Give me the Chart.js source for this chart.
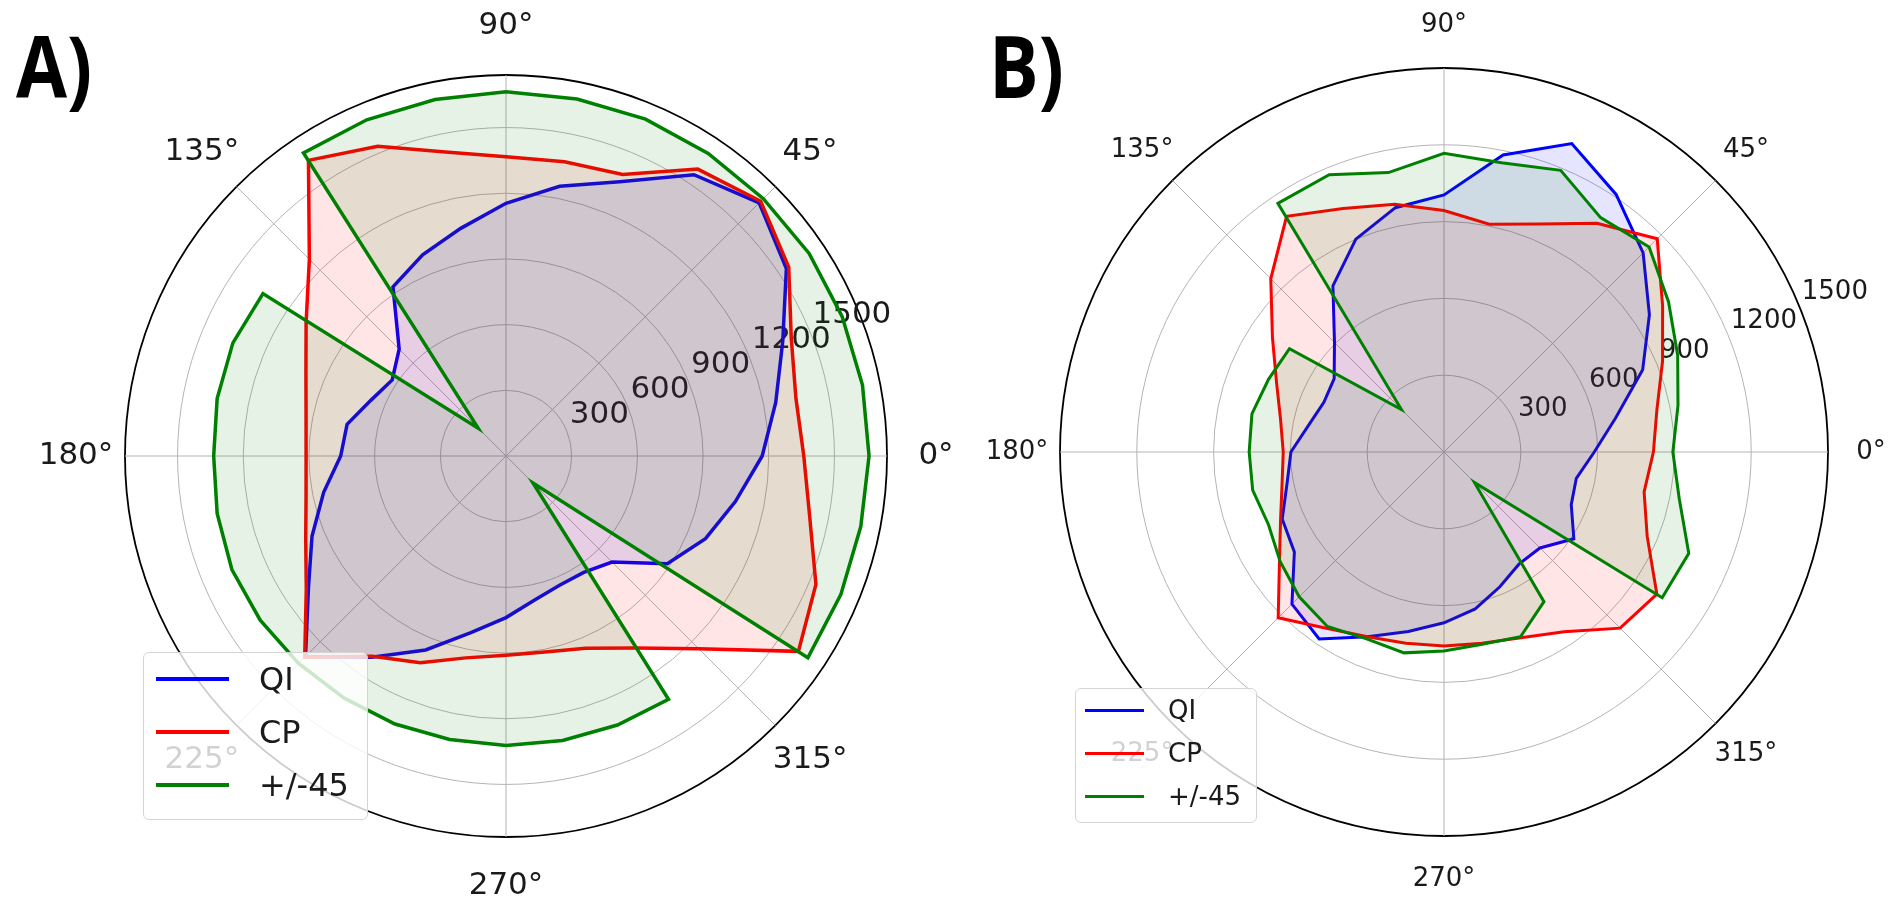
<!DOCTYPE html>
<html>
<head>
<meta charset="utf-8">
<title>Polar comparison QI / CP / +/-45</title>
<script src="https://cdn.jsdelivr.net/npm/chart.js@4.4.0/dist/chart.umd.min.js"></script>
<style>
  html, body { margin: 0; padding: 0; background: #fff; }
  body { width: 1889px; height: 902px; position: relative; overflow: hidden; font-family: 'DejaVu Sans', sans-serif; }
  canvas { position: absolute; top: 0; }
  #chartA { left: 0; }
  #chartB { left: 945px; }
  .tag { position: absolute; top: 22px; font-family: 'Open Sans', sans-serif; font-weight: 700; font-size: 86px; line-height: 1; color: #000; transform: scaleX(0.86); transform-origin: left top; }
  .legend { position: absolute; box-sizing: border-box; background: rgba(255,255,255,0.8); border: 1px solid #d4d4d4; border-radius: 6px; color: #1a1a1a; }
  .legend .swatch { position: absolute; }
  .legend .name { position: absolute; line-height: 1; transform: translateY(-50%); white-space: nowrap; }
</style>
</head>
<body>
<canvas id="chartA" width="1000" height="902"></canvas>
<canvas id="chartB" width="944" height="902"></canvas>
<div class="tag" style="left:16px">A)</div>
<div class="tag" style="left:989px">B)</div>
<script>
// samples every 11.25 deg, counter-clockwise from 0 deg (matplotlib polar convention)
const angles = [0, 11.25, 22.5, 33.75, 45, 56.25, 67.5, 78.75, 90, 101.25, 112.5, 123.75,
                135, 146.25, 157.5, 168.75, 180, 191.25, 202.5, 213.75, 225, 236.25, 247.5, 258.75,
                270, 281.25, 292.5, 303.75, 315, 326.25, 337.5, 348.75];
const radialTicks = [300, 600, 900, 1200, 1500];
const angleTicks = [0, 45, 90, 135, 180, 225, 270, 315];
const seriesNames = ['QI', 'CP', '+/-45'];
const seriesColors = ['#0000ff', '#ff0000', '#008000'];
const seriesFills = ['rgba(0,0,255,0.1)', 'rgba(255,0,0,0.1)', 'rgba(0,128,0,0.1)'];

// panel A
const qiA   = [1170, 1256, 1368, 1540, 1635, 1545, 1356, 1256, 1154, 1060, 995, 929,
               690, 625, 667, 740, 755, 849, 959, 1085, 1295, 1105, 959, 822,
               738, 671, 639, 639, 685, 886, 986, 1068];
const cpA   = [1360, 1350, 1410, 1553, 1645, 1576, 1392, 1370, 1367, 1415, 1531, 1624,
               1270, 1098, 989, 931, 913, 931, 990, 1097, 1300, 1100, 1022, 940,
               910, 913, 950, 1055, 1245, 1606, 1532, 1414];
const pm45A = [1658, 1660, 1662, 1665, 1662, 1662, 1665, 1662, 1663, 1660, 1662, 1665,
               180, 1335, 1350, 1345, 1335, 1345, 1355, 1350, 1340, 1330, 1325, 1320,
               1322, 1325, 1330, 1336, 175, 1658, 1655, 1652];
const rMaxA = 1740;

// panel B
const qiB   = [587, 684, 840, 965, 1100, 1210, 1304, 1183, 1004, 973, 900, 781,
               605, 516, 508, 539, 598, 625, 684, 703, 840, 878, 781, 715,
               667, 625, 570, 527, 530, 610, 538, 527];
const cpB   = [818, 848, 924, 1027, 1178, 1075, 964, 907, 943, 987, 1030, 1107,
               957, 806, 708, 651, 628, 645, 691, 773, 916, 828, 781, 762,
               758, 762, 785, 844, 973, 1000, 859, 797];
const pm45B = [894, 932, 988, 1055, 1133, 1101, 1191, 1152, 1167, 1113, 1172, 1168,
               235, 726, 742, 765, 761, 762, 742, 770, 800, 820, 790, 800,
               777, 766, 781, 703, 168, 1025, 1035, 937];
const rMaxB = 1500;

// chart.js radar goes clockwise, so walk the samples backwards
function clockwise(values) {
    return values.map((v, i) => values[(values.length - i) % values.length]);
}
const labels = clockwise(angles).map(a => a + '°');

// radial tick labels at 22.5 deg, angle labels outside the rim
const polarText = {
    id: 'polarText',
    beforeDatasetsDraw(chart, args, opts) {
        const r = chart.scales.r;
        const ctx = chart.ctx;
        const idx = chart.data.labels.indexOf('22.5°');
        ctx.save();
        ctx.font = opts.font;
        ctx.fillStyle = '#1a1a1a';
        ctx.textAlign = 'left';
        ctx.textBaseline = 'bottom';
        radialTicks.forEach(v => {
            const p = r.getPointPositionForValue(idx, v);
            ctx.fillText(String(v), p.x + 3, p.y);
        });
        ctx.restore();
    },
    afterDraw(chart, args, opts) {
        const r = chart.scales.r;
        const ctx = chart.ctx;
        ctx.save();
        ctx.font = opts.font;
        ctx.fillStyle = '#1a1a1a';
        ctx.textAlign = 'center';
        ctx.textBaseline = 'middle';
        angleTicks.forEach(a => {
            const i = chart.data.labels.indexOf(a + '°');
            const p = r.getPointPosition(i, r.drawingArea + opts.gap);
            ctx.fillText(a + '°', p.x, p.y);
        });
        ctx.restore();
    }
};

function makePanel(id, series, rMax, look) {
    return new Chart(document.getElementById(id), {
        type: 'radar',
        data: {
            labels: labels,
            datasets: series.map((vals, k) => ({
                label: seriesNames[k],
                data: clockwise(vals),
                borderColor: seriesColors[k],
                backgroundColor: seriesFills[k],
                borderWidth: look.lineWidth,
                fill: 'origin',
                pointRadius: 0,
                pointHoverRadius: 0,
                tension: 0,
                order: 3 - k
            }))
        },
        options: {
            responsive: false,
            animation: false,
            devicePixelRatio: 1,
            layout: { padding: look.padding },
            plugins: {
                legend: { display: false },
                tooltip: { enabled: false },
                polarText: { font: look.fontSize + 'px "DejaVu Sans"', gap: look.gap }
            },
            scales: {
                r: {
                    min: 0,
                    max: rMax,
                    startAngle: 90,
                    afterBuildTicks: scale => {
                        const vals = [0].concat(radialTicks.filter(v => v < rMax), [rMax]);
                        scale.ticks = vals.map(v => ({ value: v }));
                    },
                    ticks: { display: false },
                    pointLabels: { display: false },
                    grid: {
                        circular: true,
                        color: c => (c.tick && c.tick.value === rMax) ? '#000000' : '#b4b4b4',
                        lineWidth: c => (c.tick && c.tick.value === rMax) ? 1.8 : 1
                    },
                    angleLines: {
                        color: '#b4b4b4',
                        lineWidth: c => (c.index % 4 === 0) ? 1 : 0
                    }
                }
            }
        },
        plugins: [polarText]
    });
}

function buildLegend(chart, box) {
    const el = document.createElement('div');
    el.className = 'legend';
    el.style.cssText = `left:${box.x}px;top:${box.y}px;width:${box.w}px;height:${box.h}px;font-size:${box.font}px;`;
    chart.data.datasets.forEach((ds, k) => {
        const y = box.rows[k];
        const sw = document.createElement('div');
        sw.className = 'swatch';
        sw.style.cssText = `left:${box.lineX}px;top:${y - box.lineW / 2}px;width:${box.lineLen}px;height:${box.lineW}px;background:${ds.borderColor};`;
        const name = document.createElement('div');
        name.className = 'name';
        name.style.cssText = `left:${box.textX}px;top:${y}px;`;
        name.textContent = ds.label;
        el.appendChild(sw);
        el.appendChild(name);
    });
    document.body.appendChild(el);
}

const chartA = makePanel('chartA', [qiA, cpA, pm45A], rMaxA, {
    lineWidth: 3.5, fontSize: 31, gap: 49,
    padding: { left: 125, top: 75, right: 113, bottom: 65 }
});
const chartB = makePanel('chartB', [qiB, cpB, pm45B], rMaxB, {
    lineWidth: 3, fontSize: 26, gap: 43,
    padding: { left: 115, top: 68, right: 61, bottom: 66 }
});

buildLegend(chartA, { x: 143, y: 652, w: 225, h: 168, font: 32, rows: [26, 79, 132], lineX: 12, lineLen: 73, lineW: 3.5, textX: 115 });
buildLegend(chartB, { x: 1075, y: 688, w: 182, h: 135, font: 26, rows: [21, 64, 107], lineX: 9, lineLen: 59, lineW: 3, textX: 92 });
</script>
</body>
</html>
